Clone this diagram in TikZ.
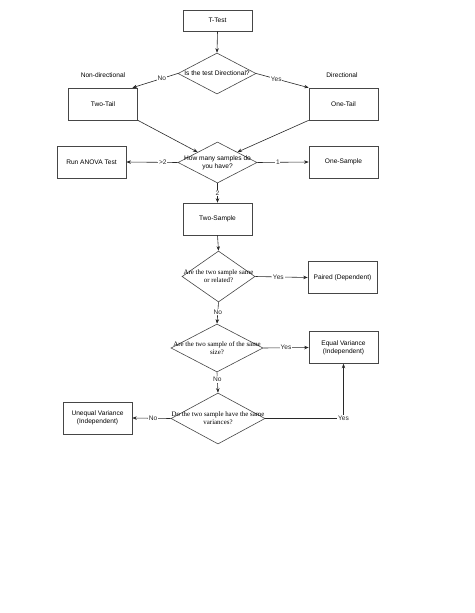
\documentclass[tikz,border=0pt]{standalone}
\usepackage{fontspec}
\setmainfont{Liberation Serif}
\setsansfont{Liberation Sans}
\usetikzlibrary{arrows.meta,shapes.geometric}
\definecolor{ink}{RGB}{40,40,40}
\definecolor{frame}{RGB}{70,70,70}
\def\bw{69}

\begin{document}
\begin{tikzpicture}[x=1pt, y=-1pt, font=\sffamily\fontsize{6.6}{7.8}\selectfont,
  box/.style={draw=frame, line width=0.6pt, minimum width=\bw pt, minimum height=32pt, align=center, inner sep=1pt},
  decide/.style={diamond, draw=frame, line width=0.6pt, inner sep=0pt},
  qtext/.style={align=center, inner sep=0pt, font=\rmfamily\fontsize{6.9}{8}\selectfont},
  flow/.style={ink, line width=0.6pt, -{Stealth[length=4.5pt,width=3.5pt]}},
  elab/.style={fill=white, inner sep=0.8pt}]
\useasboundingbox (0,0) rectangle (474,613);
% boxes: name / x / y / text
\node[box, minimum height=21pt] (ttest) at (217.5,20.5) {T-Test};
\foreach \nm/\xx/\yy/\txt in {
  twotail/103/104/{Two-Tail},
  onetail/343.5/104/{One-Tail},
  anova/91.5/162/{Run ANOVA Test},
  onesample/343.5/162/{One-Sample},
  twosample/217.5/219/{Two-Sample},
  paired/342.5/277.5/{Paired (Dependent)},
  equalvar/343.5/347.5/{Equal Variance\\(Independent)},
  unequalvar/97.5/418/{Unequal Variance\\(Independent)}%
} {
  \node[box] (\nm) at (\xx,\yy) {\txt};
}
% decisions: name / x / y / width / height
\foreach \nm/\xx/\yy/\ww/\hh in {
  dirq/217/73.5/78/41,
  sampq/217.5/162.5/79/41,
  relq/218.5/276.5/73/51,
  sizeq/217/348/92/48,
  varq/218/418.5/94/51%
} {
  \node[decide, minimum width=\ww pt, minimum height=\hh pt] (\nm) at (\xx,\yy) {};
}
\node[inner sep=0pt] (dirqt) at (dirq) {Is the test Directional?};
\node[inner sep=0pt, align=center] (sampqt) at (sampq) {How many samples do\\you have?};
\node[qtext] (relqt) at (relq) {Are the two sample same\\or related?};
\node[qtext] (sizeqt) at (sizeq) {Are the two sample of the same\\size?};
\node[qtext] (varqt) at (varq) {Do the two sample have the same\\variances?};
% side notes
\node (nondir) at (103,75) {Non-directional};
\node (dir) at (342,75) {Directional};
% plain connectors
\foreach \a/\b in {ttest.south/dirq.north, twotail.south east/sampq.north west,
  onetail.south west/sampq.north east, twosample.south/relq.north}
  \draw[flow] (\a) -- (\b);
% labelled connectors: from / to / label / pos
\foreach \a/\b/\lab/\p in {
  dirq.west/twotail.29/No/0.35,
  dirq.east/onetail.north west/Yes/0.38,
  sampq.west/anova.east/{>2}/0.29,
  sampq.east/onesample.west/1/0.4,
  sampq.south/twosample.north/2/0.5,
  relq.east/paired.west/Yes/0.44,
  relq.south/sizeq.north/No/0.45,
  sizeq.east/equalvar.west/Yes/0.5,
  sizeq.south/varq.north/No/0.35,
  varq.west/unequalvar.east/No/0.46%
}
  \draw[flow] (\a) -- node[elab, pos=\p] {\lab} (\b);
\draw[flow] (varq.east) -| node[elab, pos=0.5] {Yes} (equalvar.south);
\end{tikzpicture}
\end{document}
